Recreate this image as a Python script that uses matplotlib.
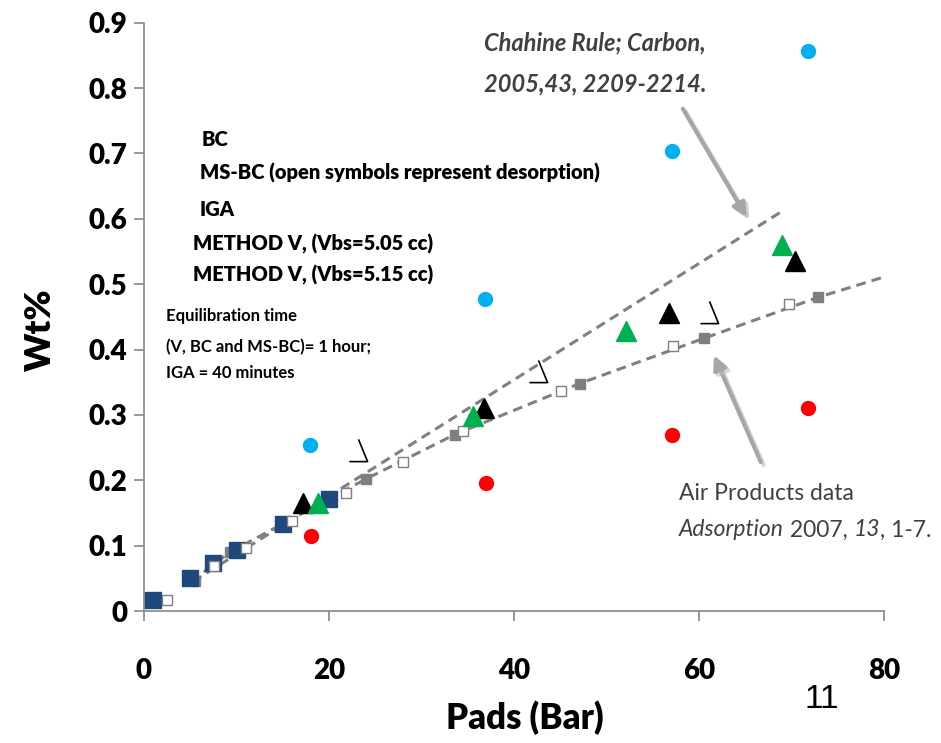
import numpy as np
import matplotlib
matplotlib.use('Agg')
import matplotlib.pyplot as plt
from matplotlib.path import Path
import matplotlib.patheffects as pe

plt.rcParams['font.family'] = ['Lato', 'DejaVu Sans']

# BC (navy squares)
bc_x = [1, 5, 7.5, 10, 15, 20]
bc_y = [0.017, 0.050, 0.073, 0.093, 0.133, 0.171]

# Air Products / MS-BC adsorption (gray filled squares)
air_x = [5.5, 9.3, 24.0, 33.6, 47.1, 60.5, 72.9]
air_y = [0.046, 0.090, 0.202, 0.270, 0.348, 0.417, 0.480]

# desorption (open squares)
des_x = [2.5, 7.6, 11.0, 16.0, 21.8, 28.0, 34.5, 45.1, 57.2, 69.7]
des_y = [0.017, 0.069, 0.096, 0.138, 0.181, 0.228, 0.275, 0.337, 0.406, 0.470]

# IGA triangles
iga_black_x = [17.2, 36.8, 56.8, 70.4]
iga_black_y = [0.165, 0.310, 0.456, 0.535]
iga_green_x = [18.8, 35.6, 52.1, 69.0]
iga_green_y = [0.165, 0.298, 0.428, 0.560]
iga_open_x = [23.1, 42.6, 61.1]
iga_open_y = [0.246, 0.367, 0.458]

# METHOD V
mv505_x = [17.9, 36.9, 57.1, 71.8]
mv505_y = [0.254, 0.477, 0.703, 0.857]
mv515_x = [18.0, 37.0, 57.1, 71.8]
mv515_y = [0.115, 0.196, 0.270, 0.311]

# dashed trend lines
chahine_x = [5.3, 68.8]
chahine_y = [0.045, 0.610]
air_fit_x = [5.1, 9.3, 24.0, 33.6, 47.1, 60.5, 72.9, 80.0]
air_fit_y = [0.045, 0.090, 0.202, 0.270, 0.348, 0.417, 0.480, 0.511]

W, H = 941, 743
fig = plt.figure(figsize=(W / 100, H / 100), dpi=100)
ax = fig.add_axes([144 / W, 1 - 611 / H, 740 / W, (611 - 22.7) / H])

def fx(px):
    return px / W

def fy(py):
    return 1 - py / H

# lines
ax.plot(chahine_x, chahine_y, color='#808080', lw=2.2, ls=(0, (3.2, 2)), zorder=1)
ax.plot(air_fit_x, air_fit_y, color='#808080', lw=2.2, ls=(0, (3.2, 2)), zorder=1)

# markers
ax.plot(air_x, air_y, ls='none', marker='s', ms=7, color='#7F7F7F', zorder=2)
ax.plot(bc_x, bc_y, ls='none', marker='s', ms=11, color='#1F497D', zorder=3)
ax.plot(des_x, des_y, ls='none', marker='s', ms=7, mfc='white', mec='#7F7F7F', mew=1.0, zorder=4)
ax.plot(iga_black_x, iga_black_y, ls='none', marker='^', ms=15, color='black', zorder=3)
ax.plot(iga_green_x, iga_green_y, ls='none', marker='^', ms=15, color='#00B050', zorder=4)

# open triangles only show two sides in the original
half_tri = Path([(0, 0.55), (0.45, -0.55), (-0.45, -0.55)],
                [Path.MOVETO, Path.LINETO, Path.LINETO])
ax.plot(iga_open_x, iga_open_y, ls='none', marker=half_tri, ms=16, mfc='none',
        mec='black', mew=1.2, zorder=4)

ax.plot(mv505_x, mv505_y, ls='none', marker='o', ms=10, color='#00B0F0', zorder=3)
ax.plot(mv515_x, mv515_y, ls='none', marker='o', ms=10, color='#FF0000', zorder=3)

# axes styling
ax.set_xlim(0, 80)
ax.set_ylim(0, 0.9)
ax.set_xticks([0, 20, 40, 60, 80])
ax.set_yticks(np.arange(0, 0.95, 0.1))
ax.set_yticklabels(['0', '0.1', '0.2', '0.3', '0.4', '0.5', '0.6', '0.7', '0.8', '0.9'])
for s in ['top', 'right']:
    ax.spines[s].set_visible(False)
for s in ['left', 'bottom']:
    ax.spines[s].set_color('#868686')
    ax.spines[s].set_linewidth(1.2)
ax.tick_params(axis='both', colors='#868686', length=7, width=1.2, labelcolor='black',
               labelsize=20)
ax.tick_params(axis='x', pad=27)
ax.tick_params(axis='y', pad=5)
for lbl in ax.get_xticklabels() + ax.get_yticklabels():
    lbl.set_fontweight('heavy')

fig.text(fx(40), fy(330), 'Wt%', rotation=90, ha='center', va='center',
         fontsize=26, fontweight='heavy')
fig.text(fx(525), fy(718), 'Pads (Bar)', ha='center', va='center',
         fontsize=25, fontweight='heavy')

# legend-like text block
legend_lines = [
    (202, 140, 'BC'),
    (200, 173, 'MS-BC (open symbols represent desorption)'),
    (200, 209, 'IGA'),
    (193, 244, 'METHOD V, (Vbs=5.05 cc)'),
    (193, 275, 'METHOD V, (Vbs=5.15 cc)'),
]
for px, py, t in legend_lines:
    fig.text(fx(px), fy(py), t, ha='left', va='center', fontsize=14.5, fontweight='heavy')

note_lines = [
    (166, 316, 'Equilibration time'),
    (166, 347, '(V, BC and MS-BC)= 1 hour;'),
    (166, 373, 'IGA = 40 minutes'),
]
for px, py, t in note_lines:
    fig.text(fx(px), fy(py), t, ha='left', va='center', fontsize=12, fontweight='bold')

# references
fig.text(fx(484), fy(43), 'Chahine Rule; Carbon,', ha='left', va='center', fontsize=17,
         fontweight='bold', style='italic', color='#404040')
fig.text(fx(484), fy(84), '2005,43, 2209-2214.', ha='left', va='center', fontsize=17,
         fontweight='bold', style='italic', color='#404040')
fig.text(fx(679), fy(493), 'Air Products data', ha='left', va='center', fontsize=16.5,
         color='#404040')

# citation line built from pieces so the italics land on the right words
pieces = [('Adsorption', 'italic'), (' 2007, ', 'normal'), ('13', 'italic'),
          (', 1-7.', 'normal')]
prev = fig.text(fx(679), fy(530), pieces[0][0], ha='left', va='center', fontsize=16.5,
                style=pieces[0][1], color='#404040')
for txt, st in pieces[1:]:
    prev = ax.annotate(txt, xy=(1, 0), xycoords=prev, ha='left', va='bottom',
                       fontsize=16.5, style=st, color='#404040', annotation_clip=False)

fig.text(fx(822), fy(700), '11', ha='center', va='center', fontsize=24,
         family='Liberation Sans', color='black')

# arrows
shadow = [pe.SimpleLineShadow(offset=(2, -2), shadow_color='#BBBBBB', alpha=0.6), pe.Normal()]
arrow_kw = dict(arrowstyle='-|>,head_length=0.8,head_width=0.4', color='#A6A6A6', lw=3)
a1 = ax.annotate('', xy=(65.3, 0.599), xytext=(58.1, 0.772), arrowprops=arrow_kw)
a2 = ax.annotate('', xy=(61.5, 0.395), xytext=(66.8, 0.224), arrowprops=arrow_kw)
a1.arrow_patch.set_path_effects(shadow)
a2.arrow_patch.set_path_effects(shadow)

fig.savefig('out.png', dpi=100)
